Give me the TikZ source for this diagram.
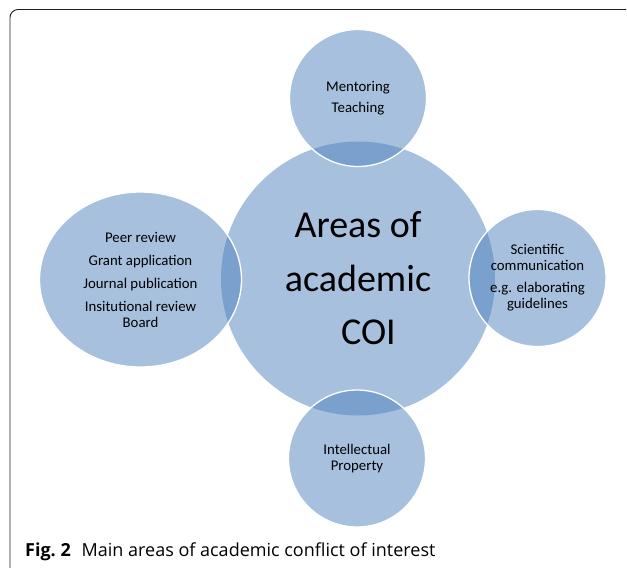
\documentclass[tikz,border=0pt]{standalone}
\usepackage{fontspec}
\setmainfont{Carlito}
\newfontfamily\captionface{Open Sans}
\usetikzlibrary{shapes.geometric}
\definecolor{bubbleblue}{RGB}{79,129,189}
\definecolor{framegray}{RGB}{30,30,30}
\begin{document}
\begin{tikzpicture}[x=1pt,y=-1pt,
  bubble/.style={fill=bubbleblue, fill opacity=0.5, text opacity=1,
    inner sep=0pt, align=center, text=black},
  hub/.style={bubble, circle, minimum size=274pt,
    font=\fontsize{38}{53.5}\selectfont},
  spoke/.style={bubble, draw=white, draw opacity=1, line width=1.3pt,
    font=\fontsize{14.8}{16}\selectfont},
  roundspoke/.style={spoke, circle, minimum size=137pt},
  ovalspoke/.style={spoke, ellipse, minimum width=202pt, minimum height=175pt}]
  \useasboundingbox (0,0) rectangle (627,568);

  % open frame: left side and top with a rounded corner
  \draw[framegray, line width=0.9pt, rounded corners=8pt]
    (10,568) -- (10,9.5) -- (626,9.5);

  % central circle
  \node[hub] (coi) at (358,278.5) {Areas of\\academic\\\hspace*{0.55em}COI};

  % surrounding areas
  \node[roundspoke] (teach) at (358,98) {Mentoring\\[5.5pt]Teaching};
  \node[roundspoke] (sci) at (537.5,278) {Scientific\\communication\\[6pt]e.g. elaborating\\guidelines};
  \node[roundspoke] (ip) at (357,458.5) {Intellectual\\Property};
  \node[ovalspoke] (review) at (140.5,279.5) {Peer review\\[7pt]Grant application\\[7pt]Journal publication\\[7pt]Insitutional review\\Board};

  % caption
  \node[anchor=base west, inner sep=0pt, font=\captionface\fontsize{18}{21}\selectfont]
    (caption) at (25,556.7) {\textbf{Fig.~2}\hspace{0.6em}Main areas of academic conflict of interest};
\end{tikzpicture}
\end{document}
